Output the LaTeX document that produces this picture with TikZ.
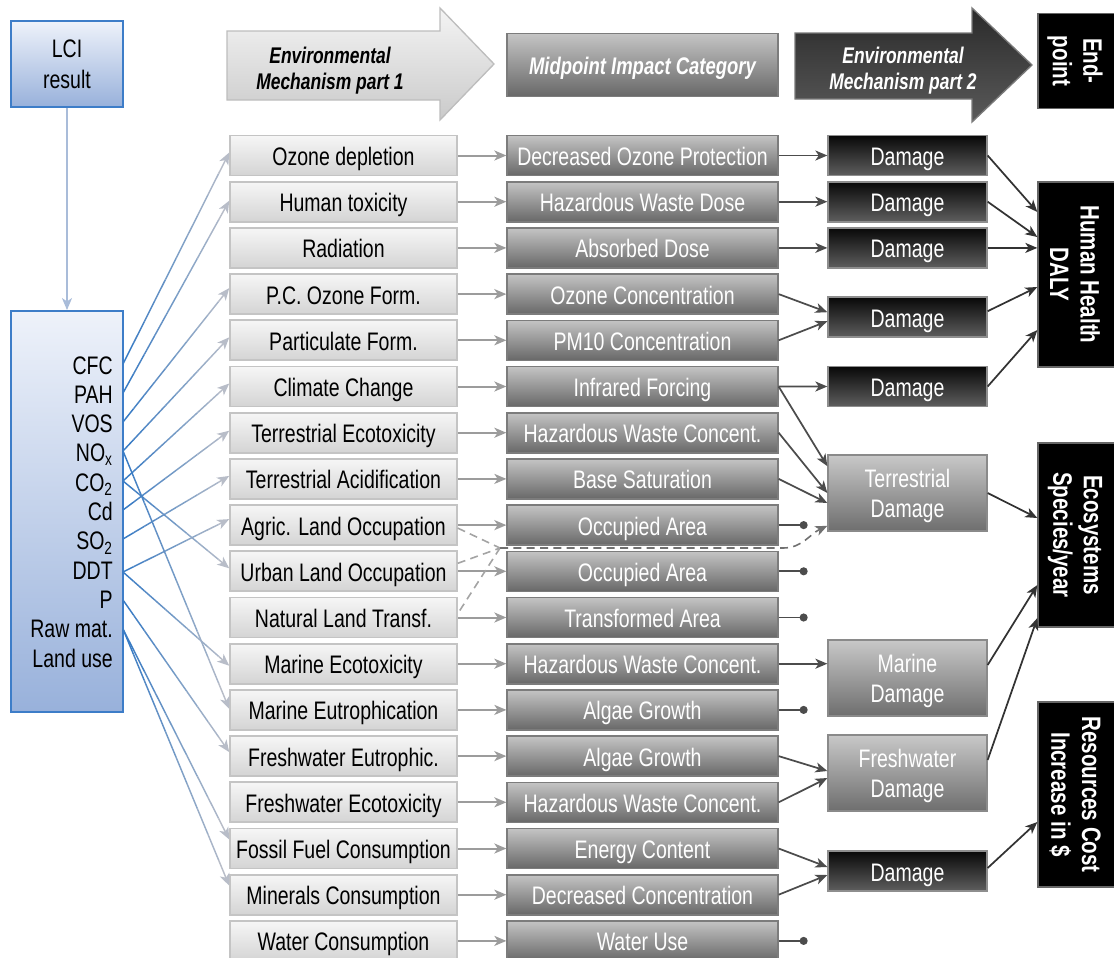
\documentclass[tikz,border=0pt]{standalone}
\usepackage{fontspec}
\setmainfont[FakeStretch=0.77]{Liberation Sans}
\usetikzlibrary{arrows.meta,calc}
\definecolor{c1top}{HTML}{F6F6F6}\definecolor{c1bot}{HTML}{D4D4D4}\definecolor{c1bd}{HTML}{C4C4C4}
\definecolor{c2top}{HTML}{C4C4C4}\definecolor{c2bot}{HTML}{686868}\definecolor{c2bd}{HTML}{7C7C7C}
\definecolor{dtop}{HTML}{080808}\definecolor{dbot}{HTML}{5E5E5E}\definecolor{dbd}{HTML}{8E8E8E}
\definecolor{ltop}{HTML}{C8C8C8}\definecolor{lbot}{HTML}{6E6E6E}\definecolor{lbd}{HTML}{8A8A8A}
\definecolor{lcitop}{HTML}{EEF2FA}\definecolor{lcibot}{HTML}{98B1DB}\definecolor{lcibd}{HTML}{3D7DC8}
\definecolor{h1top}{HTML}{F4F4F4}\definecolor{h1bot}{HTML}{CACACA}\definecolor{h1bd}{HTML}{BDBDBD}
\definecolor{h2top}{HTML}{2A2A2A}\definecolor{h2bot}{HTML}{5A5A5A}\definecolor{h2bd}{HTML}{7A7A7A}
\definecolor{ara}{HTML}{9C9C9C}\definecolor{arb}{HTML}{4C4C4C}\definecolor{arc}{HTML}{333333}
\definecolor{lblue}{HTML}{3A7CC4}\definecolor{lgray}{HTML}{B8BDC8}\definecolor{lciar}{HTML}{A9BCD9}
\definecolor{dashA}{HTML}{A4A4A4}\definecolor{dashB}{HTML}{707070}
\newcommand\fadeln[2]{%
  \foreach \k in {0,...,8}{%
    \pgfmathsetmacro\ka{\k/10}%
    \pgfmathsetmacro\kb{(\k+1)/10}%
    \pgfmathtruncatemacro\pc{100-\k*11}%
    \draw[fadeconn, draw=lblue!\pc!lgray] ($(#1)!\ka!(#2)$) -- ($(#1)!\kb!(#2)$);
  }%
  \draw[fadeconn, draw=lgray, ->] ($(#1)!0.9!(#2)$) -- (#2);
}
\begin{document}
\begin{tikzpicture}[x=0.75pt,y=-0.75pt,
  font=\fontsize{19}{23}\selectfont,
  >={Stealth[length=9pt,width=7.5pt,inset=2.5pt]},
  rowtxt/.style={text height=15pt, text depth=0pt},
  c1/.style={rowtxt, draw=c1bd, line width=1.4pt, top color=c1top, bottom color=c1bot,
    minimum width=170pt, minimum height=30pt, inner sep=0pt},
  c2/.style={rowtxt, draw=c2bd, line width=1.2pt, top color=c2top, bottom color=c2bot, text=white,
    minimum width=203pt, minimum height=30pt, inner sep=0pt},
  dmg/.style={rowtxt, draw=dbd, line width=1.2pt, top color=dtop, bottom color=dbot, text=white,
    minimum width=119pt, minimum height=30pt, inner sep=0pt},
  dmgl/.style={draw=lbd, line width=1.2pt, top color=ltop, bottom color=lbot,
    minimum width=119pt, minimum height=57pt, inner sep=0pt},
  dmgt/.style={text=white, align=center, inner sep=0pt},
  endbox/.style={draw=black!60, line width=1pt, fill=black, minimum width=60pt, inner sep=0pt},
  endtxt/.style={rotate=-90, text=white, align=center, font=\fontsize{20}{23}\selectfont\bfseries},
  lcib/.style={draw=lcibd, line width=1.4pt, top color=lcitop, bottom color=lcibot,
    minimum width=84pt, inner sep=0pt, align=center},
  lab/.style={anchor=base east, inner sep=0pt},
  hdr/.style={align=center, font=\fontsize{17}{19.5}\selectfont\bfseries\itshape},
  fadeconn/.style={line width=1.1pt},
  a1/.style={->, draw=ara, line width=1.5pt},
  a2/.style={->, draw=arb, line width=1.3pt},
  a3/.style={->, draw=arc, line width=1.3pt},
  dotl/.style={-{Circle[length=6pt]}, draw=arb, line width=1.3pt},
  dsa/.style={dashed, dash pattern=on 6pt off 4pt, draw=dashA, line width=1.2pt},
  dsb/.style={dashed, dash pattern=on 6pt off 4pt, draw=dashB, line width=1.2pt}
]
\useasboundingbox (0,0) rectangle (1114,957);

% ---------- header ----------
\shadedraw[top color=h1top, bottom color=h1bot, draw=h1bd, line width=1pt]
  (227,31) -- (440,31) -- (440,8) -- (494,64) -- (440,120) -- (440,100) -- (227,100) -- cycle;
\node[hdr] (h1) at (330,71) {Environmental\\Mechanism part 1};
\node[c2, minimum height=47pt, text height=14pt, text depth=0pt, font=\fontsize{18}{20}\selectfont\bfseries\itshape] (mid) at (642.5,65) {Midpoint Impact Category};
\shadedraw[top color=h2top, bottom color=h2bot, draw=h2bd, line width=1pt]
  (795,33) -- (972,33) -- (972,8) -- (1032,65) -- (972,122) -- (972,99) -- (795,99) -- cycle;
\node[hdr, text=white] (h2) at (903,71) {Environmental\\Mechanism part 2};
\node[endbox, minimum height=71pt] (ep) at (1078,61) {};
\node[endtxt] (ept) at ($(ep)+(-3,0)$) {End-\\point};

% ---------- LCI ----------
\node[lcib, minimum height=64pt] (lci) at (67,64) {LCI\\result};
\node[lcib, minimum height=300.75pt] (lbox) at (67,511.5) {};
\draw[->, draw=lciar, line width=1.3pt] (lci) -- (lbox);
\node[lab] (lCFC) at (113,374) {CFC};
\node[lab] (lPAH) at (113,403.3) {PAH};
\node[lab] (lVOS) at (113,432.6) {VOS};
\node[lab] (lNOx) at (113,461.9) {NO\textsubscript{x}};
\node[lab] (lCO2) at (113,491.2) {CO\textsubscript{2}};
\node[lab] (lCd) at (113,520.5) {Cd};
\node[lab] (lSO2) at (113,549.8) {SO\textsubscript{2}};
\node[lab] (lDDT) at (113,579.1) {DDT};
\node[lab] (lP) at (113,608.4) {P};
\node[lab] (lRaw) at (113,637.7) {Raw mat.};
\node[lab] (lLand) at (113,667) {Land use};

% ---------- rows ----------
\foreach \i/\a/\b in {
1/Ozone depletion/Decreased Ozone Protection,
2/Human toxicity/Hazardous Waste Dose,
3/Radiation/Absorbed Dose,
4/P.C. Ozone Form./Ozone Concentration,
5/Particulate Form./PM10 Concentration,
6/Climate Change/Infrared Forcing,
7/Terrestrial Ecotoxicity/Hazardous Waste Concent.,
8/Terrestrial Acidification/Base Saturation,
9/Agric. Land Occupation/Occupied Area,
10/Urban Land Occupation/Occupied Area,
11/Natural Land Transf./Transformed Area,
12/Marine Ecotoxicity/Hazardous Waste Concent.,
13/Marine Eutrophication/Algae Growth,
14/Freshwater Eutrophic./Algae Growth,
15/Freshwater Ecotoxicity/Hazardous Waste Concent.,
16/Fossil Fuel Consumption/Energy Content,
17/Minerals Consumption/Decreased Concentration,
18/Water Consumption/Water Use}{
  \pgfmathsetmacro\yy{155.5+46.2*(\i-1)}
  \node[c1] (c1-\i) at (343.5,\yy) {\a};
  \node[c2] (c2-\i) at (642.5,\yy) {\b};
  \draw[a1] (c1-\i) -- (c2-\i);
}

% ---------- inventory -> categories ----------
\coordinate (sCFC) at (123,364);
\coordinate (sPAH) at (123,393);
\coordinate (sVOS) at (123,422);
\coordinate (sNOx) at (123,451);
\coordinate (sCO2) at (123,481);
\coordinate (sCd) at (123,510);
\coordinate (sSO2) at (123,539);
\coordinate (sDDT) at (123,572);
\coordinate (sP) at (123,600);
\coordinate (sRaw) at (123,629);
\coordinate (t1) at ($(c1-1.west)+(0,-3)$);
\coordinate (t2) at ($(c1-2.west)+(0,-1)$);
\coordinate (t4) at ($(c1-4.west)+(0,-6)$);
\coordinate (t5) at ($(c1-5.west)+(0,-3)$);
\coordinate (t6) at ($(c1-6.west)+(0,-3)$);
\coordinate (t7) at ($(c1-7.west)+(0,-2)$);
\coordinate (t8) at ($(c1-8.west)+(0,-3)$);
\coordinate (t9) at ($(c1-9.west)+(0,-6)$);
\coordinate (t10) at ($(c1-10.west)+(0,-3)$);
\coordinate (t12) at ($(c1-12.west)+(0,2)$);
\coordinate (t13) at ($(c1-13.west)+(0,-1)$);
\coordinate (t14) at ($(c1-14.west)+(0,-4)$);
\coordinate (t16) at ($(c1-16.west)+(0,-9)$);
\coordinate (t17) at ($(c1-17.west)+(0,-9)$);
\fadeln{sCFC}{t1}
\fadeln{sPAH}{t2}
\fadeln{sVOS}{t4}
\fadeln{sNOx}{t5}
\fadeln{sCO2}{t6}
\fadeln{sCd}{t7}
\fadeln{sSO2}{t8}
\fadeln{sDDT}{t9}
\fadeln{sCO2}{t10}
\fadeln{sDDT}{t12}
\fadeln{sNOx}{t13}
\fadeln{sP}{t14}
\fadeln{sRaw}{t16}
\fadeln{sRaw}{t17}

% ---------- land use dashed ----------
\coordinate (J) at (500,548);
\coordinate (K) at (783,548);
\draw[dsa] ($(c1-9.east)+(0,3)$) -- (J);
\draw[dsa] ($(c1-10.east)+(0,-8)$) -- (J);
\draw[dsa] ($(c1-11.east)+(2,-7)$) -- (J);

% ---------- damage ----------
\node[dmg] (d1) at (907.5,155.5) {Damage};
\node[dmg] (d2) at (907.5,201.7) {Damage};
\node[dmg] (d3) at (907.5,247.9) {Damage};
\node[dmg] (d4) at (907.5,317.2) {Damage};
\node[dmg] (d5) at (907.5,386.5) {Damage};
\node[dmgl] (terr) at (907.5,493) {};
\node[dmgt] (terrt) at ($(terr)+(0,3)$) {Terrestrial\\Damage};
\node[dmgl] (marine) at (907.5,678) {};
\node[dmgt] (marinet) at ($(marine)+(0,3)$) {Marine\\Damage};
\node[dmgl] (fresh) at (907.5,773) {};
\node[dmgt] (fresht) at ($(fresh)+(0,3)$) {Freshwater\\Damage};
\node[dmg] (d6) at (907.5,871) {Damage};

\draw[dsb, ->] (J) -- (K) to[out=0, in=205] ($(terr.south west)+(0,-6)$);

\draw[a2] (c2-1) -- (d1);
\draw[a2] (c2-2) -- (d2);
\draw[a2] (c2-3) -- (d3);
\draw[a2] (c2-4.east) -- ($(d4.west)+(0,-5)$);
\draw[a2] (c2-5.east) -- ($(d4.west)+(0,4)$);
\draw[a2] (c2-6) -- (d5);
\draw[a2] (c2-6.east) -- ($(terr.north west)+(0,12)$);
\draw[a2] (c2-7.east) -- (terr.west);
\draw[a2] (c2-8.east) -- ($(terr.west)+(0,10)$);
\draw[a2] (c2-12.east) -- (c2-12.east -| marine.west);
\draw[a2] (c2-14.east) -- ($(fresh.west)+(0,-2)$);
\draw[a2] (c2-15.east) -- ($(fresh.west)+(0,5)$);
\draw[a2] (c2-16.east) -- ($(d6.west)+(0,-4)$);
\draw[a2] (c2-17.east) -- ($(d6.west)+(0,4)$);
\foreach \i in {9,10,11,13,18}{
  \coordinate (e\i) at ($(c2-\i.east)+(29,0)$);
  \draw[dotl] (c2-\i.east) -- (e\i);
}

% ---------- endpoints ----------
\node[endbox, minimum height=138.75pt] (hh) at (1078,274.5) {};
\node[endtxt] (hht) at ($(hh)+(-3,0)$) {Human Health\\DALY};
\node[endbox, minimum height=138pt] (eco) at (1078,535) {};
\node[endtxt] (ecot) at ($(eco)+(-3,0)$) {Ecosystems\\Species/year};
\node[endbox, minimum height=138.75pt] (res) at (1078,794.5) {};
\node[endtxt] (rest) at ($(res)+(-3,0)$) {Resources Cost\\Increase in \$};

\draw[a3] (d1.east) -- ($(hh.west)+(0,-62.5)$);
\draw[a3] (d2.east) -- ($(hh.west)+(0,-37.5)$);
\draw[a3] (d3.east) -- (d3.east -| hh.west);
\draw[a3] ($(d4.east)+(0,-6)$) -- ($(hh.west)+(0,12.5)$);
\draw[a3] (d5.east) -- ($(hh.west)+(0,55.5)$);
\draw[a3] (terr.east) -- ($(eco.west)+(0,-17)$);
\draw[a3] ($(marine.east)+(0,-13)$) -- ($(eco.west)+(0,50)$);
\draw[a3] ($(fresh.east)+(0,-13)$) -- ($(eco.west)+(0,83)$);
\draw[a3] ($(d6.east)+(0,-3)$) -- ($(res.west)+(0,27.5)$);
\end{tikzpicture}
\end{document}
